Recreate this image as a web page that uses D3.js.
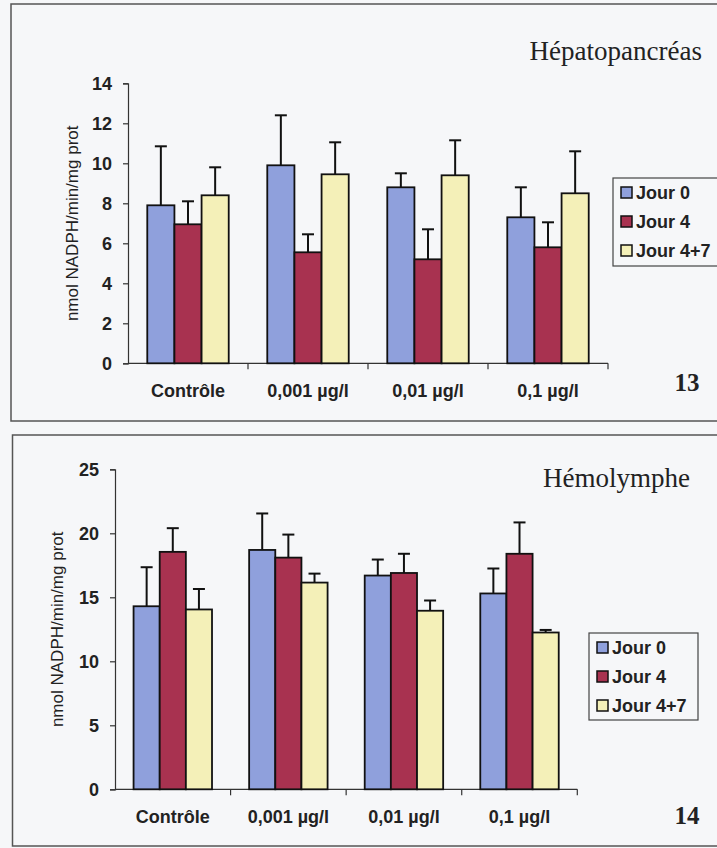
<!DOCTYPE html>
<html>
<head>
<meta charset="utf-8">
<script src="https://cdn.jsdelivr.net/npm/d3@7"></script>
<style>
  body { margin: 0; background: #f6f7f9; }
  svg { display: block; }
</style>
</head>
<body>
<div id="chart"></div>
<script>
// categories and series
const categories = ["Contrôle", "0,001 µg/l", "0,01 µg/l", "0,1 µg/l"];
const seriesNames = ["Jour 0", "Jour 4", "Jour 4+7"];
const colors = ["#8fa0dc", "#a83250", "#f4f0b8"];

// Hépatopancréas (figure 13) - means and error bar sizes
const hepJour0 = [7.9, 9.9, 8.8, 7.3];
const hepJour4 = [6.95, 5.55, 5.2, 5.8];
const hepJour47 = [8.4, 9.45, 9.4, 8.5];
const hepErr0 = [2.95, 2.5, 0.7, 1.5];
const hepErr4 = [1.15, 0.9, 1.5, 1.25];
const hepErr47 = [1.4, 1.6, 1.75, 2.1];
const hepTicks = [0, 2, 4, 6, 8, 10, 12, 14];

// Hémolymphe (figure 14)
const hemJour0 = [14.3, 18.7, 16.7, 15.3];
const hemJour4 = [18.55, 18.1, 16.9, 18.4];
const hemJour47 = [14.05, 16.15, 13.95, 12.25];
const hemErr0 = [3.05, 2.85, 1.25, 1.95];
const hemErr4 = [1.85, 1.8, 1.5, 2.45];
const hemErr47 = [1.6, 0.7, 0.8, 0.2];
const hemTicks = [0, 5, 10, 15, 20, 25];

const W = 717, H = 848;
const sans = "'Liberation Sans', Arial, sans-serif";
const serif = "'Liberation Serif', 'Times New Roman', serif";

var svg = d3.select("#chart")
  .append("svg")
    .attr("width", W)
    .attr("height", H);

function drawPanel(cfg) {
  var g = svg.append("g");

  // panel frame
  g.append("rect")
    .attr("x", cfg.box[0]).attr("y", cfg.box[1])
    .attr("width", cfg.box[2]).attr("height", cfg.box[3])
    .attr("fill", "none")
    .attr("stroke", "#555")
    .attr("stroke-width", 1.5);

  var x0 = d3.scaleBand()
    .domain(categories)
    .range(cfg.xRange)
    .padding(0);

  var x1 = d3.scaleBand()
    .domain(seriesNames)
    .range([0, x0.bandwidth()])
    .paddingInner(0)
    .paddingOuter(0.71);

  var y = d3.scaleLinear()
    .domain([0, cfg.yMax])
    .range(cfg.yRange);

  // y axis
  var yAxis = g.append("g")
    .attr("transform", "translate(" + cfg.xRange[0] + ",0)")
    .call(d3.axisLeft(y).tickValues(cfg.ticks).tickSize(5).tickPadding(11));
  yAxis.select(".domain").attr("stroke", "#333").attr("stroke-width", 1.2);
  yAxis.selectAll(".tick line").attr("stroke", "#333").attr("stroke-width", 1.2);
  yAxis.selectAll("text")
    .attr("font-family", sans)
    .attr("font-weight", "bold")
    .attr("font-size", "18px")
    .attr("fill", "#222");

  // x axis: ticks between categories
  var xAxis = g.append("g")
    .attr("transform", "translate(0," + cfg.yRange[0] + ")");
  xAxis.append("line")
    .attr("x1", cfg.xRange[0]).attr("x2", cfg.xRange[1])
    .attr("stroke", "#333").attr("stroke-width", 1.2);
  var bounds = categories.map(c => x0(c)).concat([cfg.xRange[1]]);
  xAxis.selectAll(".sep")
    .data(bounds.slice(1))
    .enter().append("line")
      .attr("x1", d => d).attr("x2", d => d)
      .attr("y1", 0).attr("y2", 6)
      .attr("stroke", "#333").attr("stroke-width", 1.2);
  xAxis.selectAll(".cat")
    .data(categories)
    .enter().append("text")
      .attr("x", d => x0(d) + x0.bandwidth() / 2)
      .attr("y", cfg.xLabelY - cfg.yRange[0])
      .attr("text-anchor", "middle")
      .attr("font-family", sans)
      .attr("font-weight", "bold")
      .attr("font-size", "18px")
      .attr("fill", "#222")
      .text(d => d);

  // y label
  g.append("text")
    .attr("transform", "translate(" + cfg.yLabelX + "," + (cfg.yRange[0] + cfg.yRange[1]) / 2 + ") rotate(-90)")
    .attr("text-anchor", "middle")
    .attr("font-family", sans)
    .attr("font-size", "17px")
    .attr("fill", "#222")
    .text("nmol NADPH/min/mg prot");

  // bars
  var rows = [];
  categories.forEach(function (c, i) {
    seriesNames.forEach(function (s, j) {
      rows.push({ cat: c, s: s, j: j, v: cfg.values[j][i], e: cfg.errors[j][i] });
    });
  });

  var bars = g.append("g")
    .selectAll("g")
    .data(rows)
    .enter().append("g")
      .attr("transform", d => "translate(" + (x0(d.cat) + x1(d.s)) + ",0)");

  bars.append("line")
    .attr("x1", x1.bandwidth() / 2).attr("x2", x1.bandwidth() / 2)
    .attr("y1", d => y(d.v)).attr("y2", d => y(d.v + d.e))
    .attr("stroke", "#111").attr("stroke-width", 2);
  bars.append("line")
    .attr("x1", x1.bandwidth() / 2 - 6).attr("x2", x1.bandwidth() / 2 + 6)
    .attr("y1", d => y(d.v + d.e)).attr("y2", d => y(d.v + d.e))
    .attr("stroke", "#111").attr("stroke-width", 2);

  bars.append("rect")
    .attr("x", 0)
    .attr("width", x1.bandwidth())
    .attr("y", d => y(d.v))
    .attr("height", d => y(0) - y(d.v))
    .attr("fill", d => colors[d.j])
    .attr("stroke", "#111")
    .attr("stroke-width", 1.8);

  // legend
  var lg = g.append("g");
  lg.append("rect")
    .attr("x", cfg.legend[0]).attr("y", cfg.legend[1])
    .attr("width", cfg.legend[2]).attr("height", cfg.legend[3])
    .attr("fill", "none")
    .attr("stroke", "#444")
    .attr("stroke-width", 1.2);
  var item = lg.selectAll(".item")
    .data(seriesNames)
    .enter().append("g")
      .attr("transform", (d, i) => "translate(" + (cfg.legend[0] + 8) + "," + (cfg.legend[1] + 15 + i * 29) + ")");
  item.append("rect")
    .attr("x", 0).attr("y", -6)
    .attr("width", 11).attr("height", 11)
    .attr("fill", (d, i) => colors[i])
    .attr("stroke", "#111")
    .attr("stroke-width", 1.5);
  item.append("text")
    .attr("x", 15)
    .attr("y", 6)
    .attr("font-family", sans)
    .attr("font-weight", "bold")
    .attr("font-size", "18px")
    .attr("fill", "#222")
    .text(d => d);

  // title and figure number
  g.append("text")
    .attr("x", cfg.titleX).attr("y", cfg.titleY)
    .attr("text-anchor", "end")
    .attr("font-family", serif)
    .attr("font-size", "27px")
    .attr("fill", "#222")
    .text(cfg.title);

  g.append("text")
    .attr("x", 687).attr("y", cfg.numY)
    .attr("text-anchor", "middle")
    .attr("font-family", serif)
    .attr("font-weight", "bold")
    .attr("font-size", "25px")
    .attr("fill", "#222")
    .text(cfg.num);
}

drawPanel({
  box: [11, 4, 720, 417],
  xRange: [128, 608],
  yRange: [363.3, 83.3],
  yMax: 14,
  ticks: hepTicks,
  values: [hepJour0, hepJour4, hepJour47],
  errors: [hepErr0, hepErr4, hepErr47],
  xLabelY: 397,
  yLabelX: 78,
  legend: [613, 178, 110, 88],
  title: "Hépatopancréas",
  titleX: 702, titleY: 60,
  num: "13", numY: 391
});

drawPanel({
  box: [12.5, 435, 720, 411],
  xRange: [115, 577.3],
  yRange: [789.3, 469.3],
  yMax: 25,
  ticks: hemTicks,
  values: [hemJour0, hemJour4, hemJour47],
  errors: [hemErr0, hemErr4, hemErr47],
  xLabelY: 823,
  yLabelX: 63,
  legend: [589, 633, 109, 87],
  title: "Hémolymphe",
  titleX: 690, titleY: 487,
  num: "14", numY: 824
});
</script>
</body>
</html>
